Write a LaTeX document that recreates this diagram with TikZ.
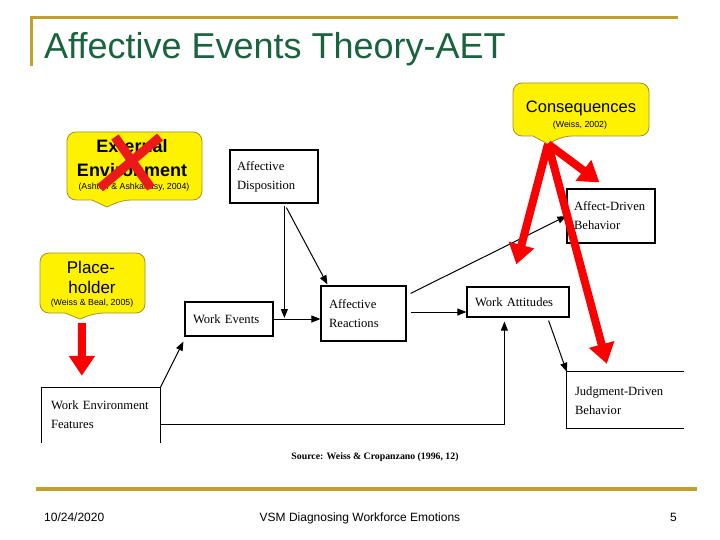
\documentclass[tikz,border=0pt]{standalone}
\usepackage{fontspec}
\setmainfont{Liberation Serif}
\newfontfamily\arialf{Liberation Sans}
\usetikzlibrary{arrows.meta,calc}
\definecolor{gold}{RGB}{193,160,45}
\definecolor{ttlgreen}{RGB}{25,100,62}
\definecolor{cborder}{RGB}{165,145,40}
\definecolor{xred}{RGB}{235,25,25}
\definecolor{ared}{RGB}{250,0,0}
\begin{document}
\begin{tikzpicture}[x=1pt,y=-1pt,
  box/.style={draw=black, line width=1.2pt, inner xsep=7pt, inner ysep=0pt, align=left, font=\fontsize{12.6}{19}\selectfont},
  openbox/.style={inner xsep=7pt, inner ysep=0pt, align=left, font=\fontsize{12.6}{19}\selectfont},
  link/.style={line width=1pt, -{Triangle[length=9pt,width=7pt]}},
  callout/.style={draw=cborder, line width=0.8pt, fill=yellow},
  bigred/.style={draw=ared, line width=8pt, -{Triangle[length=20pt,width=25pt]}},
  xstroke/.style={draw=xred, line width=9pt},
  cite/.style={anchor=base, inner sep=0pt, font=\arialf\fontsize{8.8}{10}\selectfont},
  ctext/.style={anchor=base, inner sep=0pt, font=\arialf\fontsize{17}{19}\selectfont},
  ctextb/.style={anchor=base, inner sep=0pt, font=\arialf\bfseries\fontsize{18}{20}\selectfont},
  foot/.style={inner sep=0pt, font=\arialf\fontsize{12}{14}\selectfont}
]
\useasboundingbox (0,0) rectangle (720,540);
\fill[white] (0,0) rectangle (720,540);

% title
\draw[gold, line width=3pt] (29.5,18) -- (678,18);
\draw[gold, line width=3pt] (31,16.5) -- (31,66);
\node[anchor=base west, inner sep=0pt, font=\arialf\fontsize{36}{40}\selectfont, text=ttlgreen] (title) at (44,59) {Affective Events Theory-AET};

% boxes
\node[box, minimum width=88pt, minimum height=53pt, text width=74pt] (ad) at (274,176.5) {Affective\\Disposition};
\node[box, minimum width=88pt, minimum height=34pt, text width=72pt, inner xsep=8pt] (we) at (229,319) {Work Events};
\node[box, minimum width=85pt, minimum height=55pt, text width=69pt, inner xsep=8pt] (ar) at (363.5,313.5) {Affective\\Reactions};
\node[box, minimum width=102pt, minimum height=30pt, text width=86pt, inner xsep=8pt] (wa) at (518,302) {Work Attitudes};
\node[box, minimum width=88pt, minimum height=54pt, text width=74pt] (adb) at (611,216) {Affect-Driven\\Behavior};
\node[openbox, minimum width=117pt, minimum height=54pt, text width=101pt, inner xsep=8pt] (jdb) at (625.5,401) {Judgment-Driven\\Behavior};
\node[openbox, minimum width=118pt, minimum height=53pt, text width=106pt, inner xsep=6pt] (wef) at (101,414.5) {\hspace*{3pt}Work Environment\\\hspace*{3pt}Features};
\draw[line width=1.2pt] ($(jdb.north east)+(0,-2)$) -- ($(jdb.north west)+(0,-2)$) -- (jdb.south west) -- (jdb.south east);
\draw[line width=1.2pt] ($(wef.south west)+(0,2)$) -- (wef.north west) -- (wef.north east) -- ($(wef.south east)+(0,2)$);

% connectors
\coordinate (adx) at ($(ad.south west)+(55,2)$);
\coordinate (ady) at ($(ad.south west)+(57,4)$);
\draw[link, shorten >=1pt] (adx) -- (adx |- we.east);
\draw[link] (ady) -- ($(ar.north west)+(7,-1)$);
\draw[link] (wef.north east) -- ($(we.south west)+(-1,5)$);
\draw[link] (we.east) -- (we.east -| ar.west);
\coordinate (are) at ($(ar.east)+(4,-1.5)$);
\draw[link] (are) -- (are -| wa.west);
\draw[link] ($(ar.north east)+(4,8)$) -- (adb.west);
\draw[link] ($(wa.south east)+(-21,3)$) -- ($(jdb.north west)+(0,-2)$);
\draw[link] ($(wef.east)+(0,9.5)$) -| ($(wa.south west)+(38,4)$);

% callouts
\draw[callout] (548,144) -- (533,136) [rounded corners=9pt] -- (513,136) -- (513,83) -- (649,83) -- (649,136) -- (563,136) [sharp corners] -- cycle;
\coordinate (cstip) at (548,144);
\node[ctext, font=\arialf\fontsize{16.5}{18}\selectfont] (cons) at (581,113) {Consequences};
\node[cite] (consref) at (580,128) {(Weiss, 2002)};

\draw[callout] (107,207) -- (92,200) [rounded corners=9pt] -- (67,200) -- (67,132) -- (202,132) -- (202,200) -- (122,200) [sharp corners] -- cycle;
\node[ctextb] (ext1) at (132,153) {External};
\node[ctextb] (ext2) at (132,177) {Environment};
\node[cite] (extref) at (134,190) {(Ashton \& Ashkanasy, 2004)};

\draw[callout] (80,319) -- (65,313) [rounded corners=9pt] -- (40,313) -- (40,253) -- (145,253) -- (145,313) -- (95,313) [sharp corners] -- cycle;
\coordinate (phtip) at (80,319);
\node[ctext] (ph1) at (91,273) {Place-};
\node[ctext] (ph2) at (92,293) {holder};
\node[cite] (phref) at (92,305) {(Weiss \& Beal, 2005)};

% red X
\draw[xstroke] (115,137) -- (151,188);
\draw[xstroke] (160,137) -- (100,188);

% red arrows
\draw[bigred] ($(phtip)+(2,4)$) -- ($(wef.north west)+(40,-12)$);
\draw[bigred] (cstip) -- ($(adb.north west)+(33,-6)$);
\draw[bigred] (cstip) -- ($(wa.north west)+(50,-22)$);
\draw[bigred] (cstip) -- ($(jdb.north west)+(40,-10)$);

% source
\node[anchor=base, inner sep=0pt, font=\bfseries\fontsize{9.8}{12}\selectfont] (src) at (375,459) {Source: Weiss \& Cropanzano (1996, 12)};

% footer
\draw[gold, line width=3.5pt] (36,489) -- (697,489);
\node[foot, anchor=base west] (date) at (44,521) {10/24/2020};
\node[foot, anchor=base] (ftitle) at (360,521) {VSM Diagnosing Workforce Emotions};
\node[foot, anchor=base east] (pg) at (677,521) {5};
\end{tikzpicture}
\end{document}
